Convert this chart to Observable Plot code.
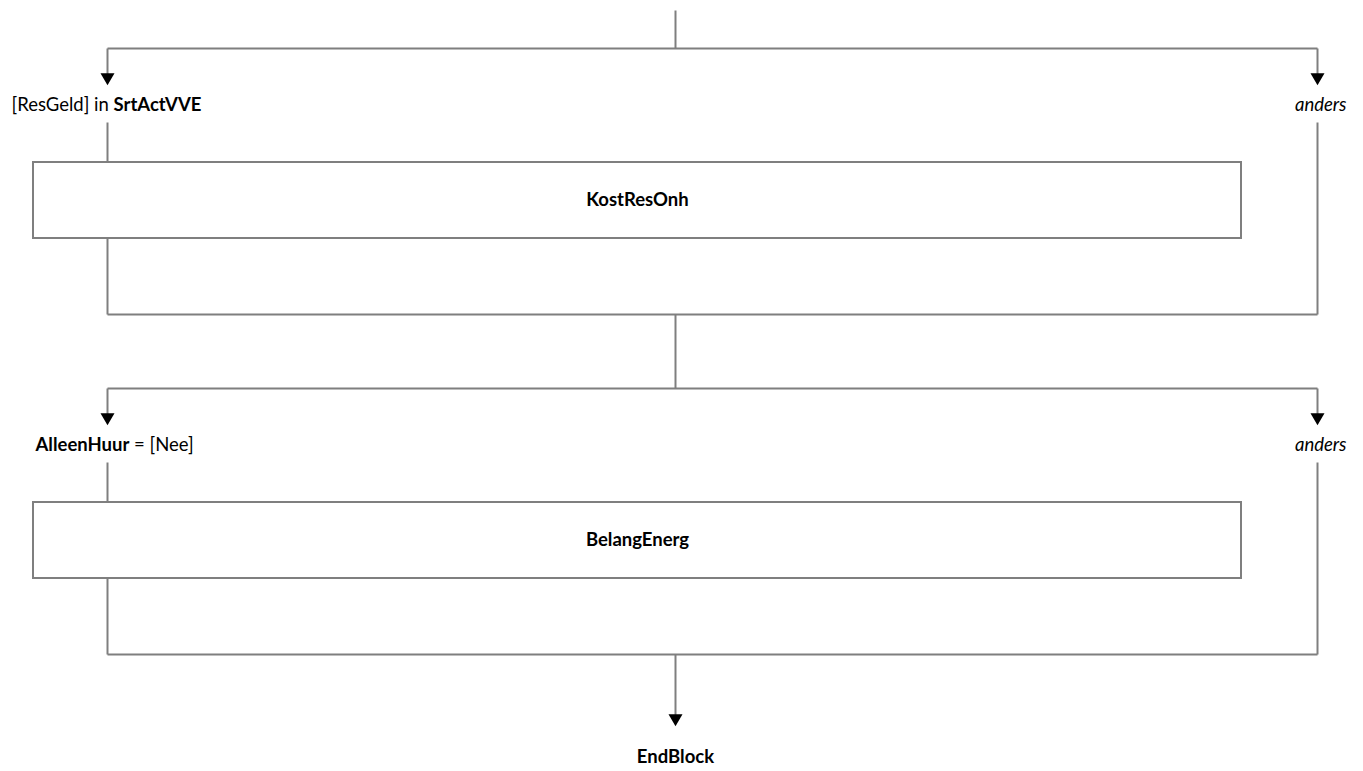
<!DOCTYPE html>
<html>
<head>
<meta charset="utf-8">
<script src="https://cdn.jsdelivr.net/npm/d3@7"></script>
<script src="https://cdn.jsdelivr.net/npm/@observablehq/plot@0.6"></script>
<style>
  html, body { margin: 0; padding: 0; background: #ffffff; }
  #chart svg { display: block; }
</style>
</head>
<body>
<div id="chart"></div>
<script>
// Diagram columns and rows (pixel units of the diagram canvas)
const colLeft = 107, colRight = 1317, colCenter = 675;
const boxLeft = 33, boxRight = 1241;

// Connector segments [x1, y1, x2, y2]
const segments = [
  [colCenter, 10, colCenter, 48],
  [colLeft, 48, colRight, 48],
  [colLeft, 48, colLeft, 80],
  [colRight, 48, colRight, 80],
  [colLeft, 122, colLeft, 162],
  [colLeft, 238, colLeft, 314],
  [colRight, 122, colRight, 314],
  [colLeft, 314, colRight, 314],
  [colCenter, 314, colCenter, 388],
  [colLeft, 388, colRight, 388],
  [colLeft, 388, colLeft, 420],
  [colRight, 388, colRight, 420],
  [colLeft, 462, colLeft, 502],
  [colLeft, 578, colLeft, 654],
  [colRight, 462, colRight, 654],
  [colLeft, 654, colRight, 654],
  [colCenter, 654, colCenter, 720]
];

// Arrow heads (tip positions)
const arrowX = [colLeft, colRight, colLeft, colRight, colCenter];
const arrowTipY = [86, 86, 426, 426, 727];

// Boxes
const boxNames = ["KostResOnh", "BelangEnerg"];
const boxTop = [162, 502];
const boxBottom = [238, 578];

// Labels: parts [text, style]
const labelParts = [
  [["[ResGeld] in ", "n"], ["SrtActVVE", "b"]],
  [["anders", "i"]],
  [["AlleenHuur", "b"], [" = [Nee]", "n"]],
  [["anders", "i"]],
  [["EndBlock", "b"]]
];
const labelX = [11, 1346, 35, 1346, colCenter];
const labelY = [105, 105, 445, 445, 757];
const labelAnchor = ["start", "end", "start", "end", "middle"];

const segData = segments.map(([x1, y1, x2, y2]) => ({x1, y1, x2, y2}));
const ARROW = 14;
const arrows = arrowX.map((x, i) => ({x, y: arrowTipY[i] - ARROW * 2 / 3}));
const boxes = boxNames.map((name, i) => ({name, x1: boxLeft, x2: boxRight, y1: boxTop[i], y2: boxBottom[i]}));
const labels = labelParts.map((parts, i) => ({id: i, parts, x: labelX[i], y: labelY[i], anchor: labelAnchor[i]}));

const W = 1363, H = 771;
const FONT = "Lato, 'Open Sans', sans-serif";
const FS = 18.5;
const arrowR = Math.sqrt((Math.sqrt(3) / 4) * ARROW * ARROW / Math.PI);

const labelMark = (anchor) => Plot.text(labels.filter(d => d.anchor === anchor), {
  x: "x", y: "y",
  text: d => d.parts.map(p => p[0]).join(""),
  textAnchor: anchor, fontSize: FS, fill: "black", fontFamily: FONT,
  className: "richlabel-" + anchor
});

const svg = Plot.plot({
  width: W,
  height: H,
  margin: 0,
  x: {domain: [0, W], range: [0, W], axis: null},
  y: {domain: [0, H], range: [0, H], axis: null},
  style: {fontFamily: FONT, background: "#ffffff"},
  marks: [
    Plot.rect(boxes, {x1: "x1", x2: "x2", y1: "y1", y2: "y2", fill: "white", stroke: "#7f7f7f", strokeWidth: 2}),
    Plot.link(segData, {x1: "x1", y1: "y1", x2: "x2", y2: "y2", stroke: "#7f7f7f", strokeWidth: 2, strokeLinecap: "butt"}),
    Plot.dot(arrows, {x: "x", y: "y", symbol: "triangle", rotate: 180, r: arrowR, fill: "black", stroke: null}),
    Plot.text(boxes, {x: d => (d.x1 + d.x2) / 2, y: d => (d.y1 + d.y2) / 2, text: "name", fontWeight: "bold", fontSize: FS, fill: "black", fontFamily: FONT}),
    labelMark("start"),
    labelMark("end"),
    labelMark("middle")
  ]
});

// Turn label text into styled tspans
["start", "end", "middle"].forEach(anchor => {
  const subset = labels.filter(d => d.anchor === anchor);
  d3.select(svg).selectAll(".richlabel-" + anchor + " text").each(function(_, i) {
    const el = d3.select(this);
    const parts = subset[i].parts;
    el.text(null);
    el.attr("xml:space", "preserve");
    parts.forEach(([t, s]) => {
      const ts = el.append("tspan").text(t);
      if (s === "b") ts.attr("font-weight", "bold");
      if (s === "i") ts.attr("font-style", "italic");
    });
  });
});

document.getElementById("chart").appendChild(svg);
</script>
</body>
</html>
